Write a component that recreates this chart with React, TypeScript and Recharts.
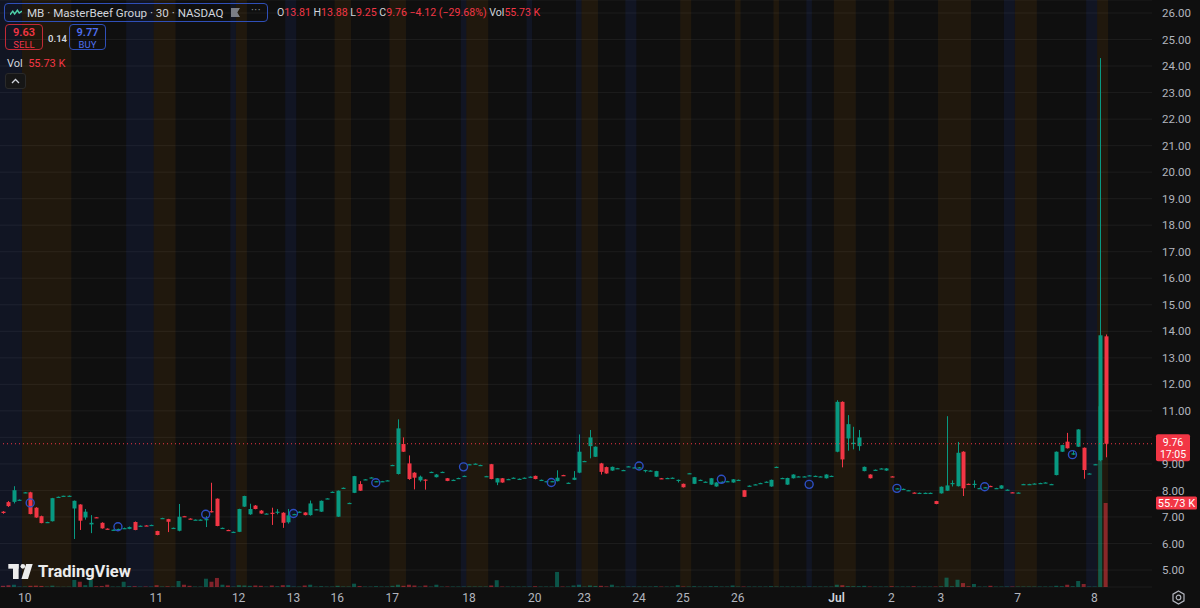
import React from 'react';
import {
  ComposedChart,
  Bar,
  XAxis,
  YAxis,
  CartesianGrid,
  ReferenceArea,
  ReferenceLine,
  Scatter,
  Cell,
} from 'recharts';

const UP = '#089981';
const DOWN = '#f23645';
const VOL_UP = 'rgba(8,153,129,0.5)';
const VOL_DOWN = 'rgba(242,54,69,0.5)';
const TOTAL_SLOTS = 210;

// 30-minute candles: [open, high, low, close]
const candles: number[][] = [
  [7.2, 7.22, 7.12, 7.15], [7.56, 7.6, 7.38, 7.41], [7.57, 8.16, 7.51, 8.01], [7.63, 7.66, 7.62, 7.65],
  [7.91, 7.94, 7.9, 7.93], [7.93, 7.95, 7.1, 7.11], [7.35, 7.37, 6.97, 6.98], [7.03, 7.05, 6.76, 6.77],
  [6.8, 6.82, 6.79, 6.81], [6.84, 7.72, 6.83, 7.71], [7.75, 7.77, 7.74, 7.76], [7.79, 7.8, 7.78, 7.8],
  [7.8, 7.81, 7.79, 7.8], [7.32, 7.62, 6.17, 7.61], [7.47, 7.48, 6.51, 6.86], [6.98, 7.3, 6.9, 7.2],
  [6.72, 7.07, 6.39, 6.78], [6.99, 7.0, 6.96, 6.97], [6.78, 6.8, 6.56, 6.57], [6.56, 6.57, 6.53, 6.54],
  [6.51, 6.53, 6.5, 6.52], [6.54, 6.56, 6.53, 6.55], [6.57, 6.6, 6.55, 6.58], [6.55, 6.64, 6.54, 6.62],
  [6.81, 6.83, 6.5, 6.51], [6.66, 6.68, 6.65, 6.67], [6.68, 6.69, 6.66, 6.67], [6.69, 6.71, 6.68, 6.7],
  [6.47, 6.48, 6.31, 6.32], [6.95, 6.97, 6.94, 6.96], [6.92, 6.93, 6.43, 6.82], [6.58, 6.6, 6.57, 6.59],
  [6.48, 7.49, 6.46, 7.01], [7.03, 7.04, 7.01, 7.02], [6.94, 6.95, 6.92, 6.93], [6.9, 6.91, 6.89, 6.9],
  [6.89, 6.91, 6.88, 6.9], [6.88, 7.03, 6.62, 6.92], [7.22, 8.29, 7.17, 7.18], [7.69, 7.7, 6.65, 6.66],
  [6.58, 6.6, 6.57, 6.59], [6.51, 6.52, 6.49, 6.5], [6.43, 6.45, 6.42, 6.44], [6.44, 7.31, 6.43, 7.3],
  [7.39, 7.8, 7.38, 7.79], [7.1, 7.5, 7.08, 7.3], [7.43, 7.45, 7.29, 7.3], [7.24, 7.26, 7.12, 7.13],
  [7.12, 7.14, 7.11, 7.13], [7.16, 7.35, 6.7, 7.15], [7.19, 7.3, 7.1, 7.2], [7.16, 7.18, 6.59, 6.78],
  [6.8, 7.3, 6.75, 7.06], [7.1, 7.12, 7.09, 7.11], [7.19, 7.21, 7.18, 7.2], [7.17, 7.18, 7.06, 7.07],
  [7.07, 7.62, 7.05, 7.51], [7.28, 7.3, 7.27, 7.29], [7.2, 7.62, 7.19, 7.61], [7.69, 7.71, 7.68, 7.7],
  [7.94, 7.96, 7.93, 7.95], [7.01, 8.0, 7.0, 7.99], [8.09, 8.11, 8.08, 8.1], [7.52, 7.54, 7.51, 7.53],
  [7.91, 8.55, 7.9, 8.54], [8.24, 8.35, 7.98, 7.99], [8.41, 8.43, 8.4, 8.42], [8.48, 8.5, 8.47, 8.49],
  [8.34, 8.36, 8.33, 8.35], [8.35, 8.36, 8.33, 8.35], [8.37, 8.39, 8.36, 8.38], [8.95, 8.97, 8.94, 8.96],
  [8.62, 10.68, 8.6, 10.34], [9.75, 10.0, 9.45, 9.46], [9.02, 9.32, 8.4, 8.43], [8.67, 8.69, 8.04, 8.48],
  [8.38, 8.56, 8.33, 8.52], [8.41, 8.42, 8.03, 8.4], [8.69, 8.71, 8.68, 8.7], [8.5, 8.62, 8.49, 8.6],
  [8.69, 8.71, 8.68, 8.7], [8.46, 8.47, 8.35, 8.36], [8.39, 8.41, 8.38, 8.4], [8.46, 8.48, 8.45, 8.47],
  [8.54, 8.56, 8.53, 8.55], [8.98, 9.0, 8.97, 8.99], [9.0, 9.02, 8.99, 9.01], [8.95, 8.97, 8.94, 8.96],
  [8.53, 8.55, 8.52, 8.54], [8.99, 9.0, 8.42, 8.43], [8.3, 8.47, 8.2, 8.46], [8.46, 8.47, 8.29, 8.3],
  [8.42, 8.44, 8.41, 8.43], [8.47, 8.49, 8.46, 8.48], [8.43, 8.45, 8.42, 8.44], [8.47, 8.49, 8.46, 8.48],
  [8.51, 8.53, 8.5, 8.52], [8.55, 8.56, 8.42, 8.43], [8.39, 8.41, 8.38, 8.4], [8.34, 8.36, 8.33, 8.35],
  [8.34, 8.36, 8.33, 8.35], [8.35, 8.76, 8.34, 8.48], [8.58, 8.59, 8.55, 8.57], [8.28, 8.3, 8.27, 8.29],
  [8.4, 8.73, 8.39, 8.48], [8.67, 10.11, 8.65, 9.46], [9.1, 9.12, 9.09, 9.11], [9.67, 10.28, 9.21, 10.0],
  [9.27, 9.66, 9.26, 9.65], [9.02, 9.04, 8.6, 8.7], [8.88, 8.9, 8.63, 8.64], [8.75, 8.9, 8.74, 8.89],
  [8.83, 8.85, 8.82, 8.84], [8.76, 8.78, 8.75, 8.77], [8.9, 8.92, 8.89, 8.91], [8.86, 8.88, 8.85, 8.87],
  [8.86, 8.88, 8.85, 8.87], [8.76, 8.78, 8.68, 8.77], [8.74, 8.76, 8.73, 8.75], [8.52, 8.74, 8.51, 8.73],
  [8.46, 8.47, 8.43, 8.45], [8.46, 8.48, 8.45, 8.47], [8.47, 8.49, 8.46, 8.48], [8.39, 8.41, 8.3, 8.4],
  [8.25, 8.26, 8.11, 8.12], [8.64, 8.66, 8.63, 8.65], [8.25, 8.51, 8.24, 8.5], [8.39, 8.41, 8.38, 8.4],
  [8.32, 8.34, 8.31, 8.33], [8.22, 8.47, 8.21, 8.46], [8.15, 8.31, 8.14, 8.3], [8.32, 8.34, 8.31, 8.33],
  [8.34, 8.36, 8.33, 8.35], [8.3, 8.43, 8.29, 8.42], [8.39, 8.41, 8.38, 8.4], [8.01, 8.02, 7.75, 7.76],
  [8.17, 8.19, 8.16, 8.18], [8.22, 8.24, 8.21, 8.23], [8.27, 8.29, 8.26, 8.28], [8.32, 8.34, 8.31, 8.33],
  [8.15, 8.41, 8.14, 8.4], [8.88, 8.9, 8.87, 8.89], [8.46, 8.48, 8.45, 8.47], [8.22, 8.48, 8.21, 8.47],
  [8.46, 8.61, 8.45, 8.6], [8.52, 8.54, 8.51, 8.53], [8.52, 8.54, 8.51, 8.53], [8.56, 8.58, 8.55, 8.57],
  [8.54, 8.56, 8.53, 8.55], [8.52, 8.54, 8.51, 8.53], [8.46, 8.61, 8.45, 8.6], [8.54, 8.56, 8.53, 8.55],
  [9.46, 11.4, 9.44, 11.34], [11.34, 11.36, 8.87, 9.17], [9.96, 10.84, 9.5, 10.5], [9.75, 10.4, 9.55, 9.8],
  [9.67, 10.28, 9.5, 10.0], [8.73, 8.9, 8.72, 8.89], [8.6, 8.61, 8.45, 8.46], [8.77, 8.79, 8.76, 8.78],
  [8.82, 8.84, 8.81, 8.83], [8.75, 8.84, 8.74, 8.83], [8.53, 8.54, 8.51, 8.52], [8.07, 8.09, 8.06, 8.08],
  [8.05, 8.07, 8.04, 8.06], [8.0, 8.02, 7.99, 8.01], [7.92, 7.93, 7.9, 7.91], [7.9, 7.92, 7.89, 7.91],
  [7.9, 7.92, 7.89, 7.91], [7.9, 7.92, 7.89, 7.91], [7.6, 7.61, 7.48, 7.49], [7.89, 8.15, 7.88, 8.14],
  [7.99, 10.8, 7.98, 8.19], [8.26, 8.38, 8.15, 8.28], [8.16, 9.83, 8.15, 9.42], [9.46, 9.48, 7.79, 8.08],
  [8.25, 8.26, 8.22, 8.24], [8.23, 8.38, 8.1, 8.25], [8.08, 8.1, 8.07, 8.09], [8.11, 8.13, 8.1, 8.12],
  [8.17, 8.18, 8.15, 8.16], [8.08, 8.1, 8.07, 8.09], [8.07, 8.2, 8.06, 8.19], [8.02, 8.04, 8.01, 8.03],
  [7.93, 7.94, 7.91, 7.92], [7.91, 7.93, 7.9, 7.92], [8.23, 8.25, 8.22, 8.24], [8.23, 8.25, 8.22, 8.24],
  [8.25, 8.27, 8.24, 8.26], [8.27, 8.29, 8.26, 8.28], [8.29, 8.31, 8.28, 8.3], [8.23, 8.25, 8.22, 8.24],
  [8.58, 9.47, 8.57, 9.46], [9.46, 9.72, 9.45, 9.71], [9.84, 10.17, 9.58, 9.59], [9.35, 9.5, 9.34, 9.4],
  [9.65, 10.31, 9.64, 10.3], [9.61, 9.62, 8.44, 8.77], [8.63, 8.65, 8.62, 8.64], [8.98, 9.0, 8.97, 8.99],
  [9.14, 24.3, 9.1, 13.85], [13.81, 13.88, 9.25, 9.76],
];

const volumes: number[] = [
  800, 1200, 1500, 300, 300, 800, 900, 700, 300, 900, 200, 200,
  200, 4700, 3500, 1200, 4700, 500, 700, 1500, 300, 300, 3500, 600,
  500, 300, 300, 300, 1200, 300, 400, 300, 4000, 1500, 800, 300,
  300, 5500, 3500, 6000, 1500, 1000, 300, 1200, 1000, 800, 1000, 800,
  300, 1000, 500, 1200, 1200, 300, 300, 1000, 1500, 300, 500, 300,
  300, 800, 300, 300, 2200, 600, 300, 300, 500, 300, 300, 800,
  1500, 800, 1500, 1000, 300, 1000, 300, 1500, 300, 300, 300, 300,
  300, 300, 300, 300, 300, 1000, 4500, 300, 300, 300, 300, 300,
  300, 500, 300, 300, 300, 10000, 300, 300, 1000, 1500, 300, 1000,
  700, 800, 400, 1500, 300, 300, 300, 300, 300, 300, 300, 500,
  300, 300, 300, 1200, 300, 300, 500, 300, 300, 500, 500, 300,
  300, 1000, 300, 300, 300, 300, 300, 300, 500, 300, 300, 300,
  300, 300, 300, 300, 300, 300, 300, 300, 1500, 1200, 600, 500,
  500, 800, 300, 300, 300, 300, 500, 300, 300, 300, 500, 300,
  300, 300, 300, 500, 6200, 500, 4800, 2600, 500, 2000, 300, 300,
  800, 300, 300, 300, 300, 300, 300, 300, 300, 300, 300, 300,
  800, 500, 1500, 500, 4000, 2000, 300, 300, 120000, 55730,
];

// day labels on the time axis (bar index where each day starts)
const dayTicks: number[] = [4, 28, 43, 53, 61, 71, 85, 97, 106, 116, 124, 134, 152, 162, 171, 185, 199];
const dayLabels: string[] = ['10', '11', '12', '13', '16', '17', '18', '20', '23', '24', '25', '26', 'Jul', '2', '3', '7', '8'];

// extended-hours session backgrounds: [firstBar, lastBar]
const preMarket: number[][] = [
  [4, 12], [28, 31], [43, 44], [61, 63], [71, 73], [85, 88], [106, 108], [124, 125], [134, 134],
  [141, 141], [152, 155], [162, 162], [171, 176], [185, 188], [200, 201],
];
const postMarket: number[][] = [
  [0, 3], [23, 27], [42, 42], [52, 53], [84, 84], [96, 96], [105, 105], [114, 115], [147, 147],
  [183, 184], [198, 199],
];

// event markers (blue circles)
const markerIdx: number[] = [5, 21, 37, 53, 68, 84, 100, 116, 131, 147, 163, 179, 195];
const markerPrice: number[] = [7.53, 6.63, 7.1, 7.13, 8.29, 8.89, 8.3, 8.92, 8.42, 8.23, 8.08, 8.14, 9.35];

const priceTicks: number[] = [5, 6, 7, 8, 9, 10, 11, 12, 13, 14, 15, 16, 17, 18, 19, 20, 21, 22, 23, 24, 25, 26];
const hiddenPriceTicks: number[] = [10];
const LAST_PRICE = 9.76;
const LAST_VOLUME = 55730;

type Row = { i: number; o?: number; h?: number; l?: number; c?: number; v?: number; mark?: number | null };

const rows: Row[] = Array.from({ length: TOTAL_SLOTS }, (_, i) => {
  const k = candles[i];
  const m = markerIdx.indexOf(i);
  const mark = m >= 0 ? markerPrice[m] : null;
  if (!k) return { i, mark };
  return { i, o: k[0], h: k[1], l: k[2], c: k[3], v: volumes[i], mark };
});

const Candle = (props: any) => {
  const { x, y, width, height, payload } = props;
  if (!payload || payload.o == null || x == null || y == null) return null;
  const { o, h, l, c } = payload;
  const color = c >= o ? UP : DOWN;
  const top = Math.min(y, y + height);
  const hgt = Math.abs(height);
  const span = h - l || 1;
  const py = (p: number) => top + ((h - p) / span) * hgt;
  const bTop = py(Math.max(o, c));
  const bBot = py(Math.min(o, c));
  const cx = Math.round(x + width / 2) + 0.5;
  return (
    <g>
      <line x1={cx} x2={cx} y1={top} y2={top + hgt} stroke={color} strokeWidth={1} />
      <rect x={cx - 2} y={bTop} width={4} height={Math.max(1.2, bBot - bTop)} fill={color} />
    </g>
  );
};

const Marker = (props: any) => {
  const { cx, cy, payload } = props;
  if (!payload || payload.mark == null || cx == null || cy == null || isNaN(cy)) return null;
  return <circle cx={cx} cy={cy} r={4} fill="none" stroke="#2d4fc4" strokeWidth={1.4} />;
};

const PriceTag = (props: any) => {
  const vb = props.viewBox || {};
  const x = (vb.x || 0) + (vb.width || 0) + 4;
  const y = vb.y || 0;
  return (
    <g>
      <rect x={x} y={y - 9.5} width={34} height={27} rx={2} fill={DOWN} />
      <text x={x + 17} y={y + 2.5} textAnchor="middle" fill="#ffffff" fontSize={10.5}>
        {LAST_PRICE.toFixed(2)}
      </text>
      <text x={x + 17} y={y + 14.5} textAnchor="middle" fill="#ffffff" fontSize={10.5}>
        17:05
      </text>
    </g>
  );
};

const VolTag = (props: any) => {
  const vb = props.viewBox || {};
  const x = (vb.x || 0) + (vb.width || 0) + 4;
  const y = vb.y || 0;
  return (
    <g>
      <rect x={x} y={y - 6.5} width={41} height={13} rx={1.5} fill={DOWN} />
      <text x={x + 20.5} y={y + 4} textAnchor="middle" fill="#ffffff" fontSize={11}>
        {(LAST_VOLUME / 1000).toFixed(2)} K
      </text>
    </g>
  );
};

const PriceTick = (props: any) => {
  const { x, y, payload } = props;
  if (hiddenPriceTicks.includes(payload.value)) return null;
  return (
    <text x={x} y={y} dy="0.355em" textAnchor="start" fill="#b2b5be" fontSize={11.5}>
      {Number(payload.value).toFixed(2)}
    </text>
  );
};

const TimeTick = (props: any) => {
  const { x, y, payload } = props;
  const k = dayTicks.indexOf(payload.value);
  const label = k >= 0 ? dayLabels[k] : '';
  const strong = label === 'Jul';
  return (
    <text x={x} y={y} dy="0.71em" textAnchor="middle" fill={strong ? '#d1d4dc' : '#b2b5be'} fontSize={12} fontWeight={strong ? 600 : 400}>
      {label}
    </text>
  );
};

const Logo = () => (
  <div style={{ position: 'absolute', left: 8, top: 562, display: 'flex', alignItems: 'center', pointerEvents: 'none' }}>
    <svg width={25} height={15} viewBox="0 0 26 16">
      <rect x={0} y={0} width={11} height={5} fill="#ececec" />
      <rect x={5} y={0} width={6} height={16} fill="#ececec" />
      <circle cx={15.5} cy={2.5} r={2.5} fill="#ececec" />
      <polygon points="19,0 26,0 21,16 14,16" fill="#ececec" />
    </svg>
    <span style={{ marginLeft: 5, color: '#ececec', fontSize: 16.5, fontWeight: 700 }}>TradingView</span>
  </div>
);

const Header = () => (
  <>
    <div
      style={{
        position: 'absolute', left: 4, top: 3, width: 264, height: 19, border: '1px solid #2f4fb8',
        borderRadius: 4, display: 'flex', alignItems: 'center', boxSizing: 'border-box', paddingLeft: 5,
      }}
    >
      <svg width={12} height={8} viewBox="0 0 13 8">
        <polyline points="0,6 3,2 5,5 8,1 10,4 13,2" fill="none" stroke="#4dd0a8" strokeWidth={1.6} />
      </svg>
      <span style={{ marginLeft: 5, color: '#d1d4dc', fontSize: 11.6, whiteSpace: 'nowrap' }}>
        MB · MasterBeef Group · 30 · NASDAQ
      </span>
      <span style={{ position: 'absolute', left: 226, top: 4, width: 9, height: 9, background: '#7a7d86', clipPath: 'polygon(0 0,100% 0,70% 50%,100% 100%,0 100%)' }} />
      <span style={{ position: 'absolute', left: 246, top: 0, color: '#9598a1', fontSize: 11, letterSpacing: 0.5 }}>···</span>
    </div>
    <div style={{ position: 'absolute', left: 277, top: 6, fontSize: 10.6, whiteSpace: 'nowrap', color: '#d1d4dc' }}>
      O<span style={{ color: DOWN }}>13.81</span> H<span style={{ color: DOWN }}>13.88</span> L
      <span style={{ color: DOWN }}>9.25</span> C<span style={{ color: DOWN }}>9.76 −4.12 (−29.68%)</span> Vol
      <span style={{ color: DOWN }}>55.73 K</span>
    </div>
    <div
      style={{
        position: 'absolute', left: 5, top: 24, width: 38, height: 26, border: '1px solid #c22a36', borderRadius: 4,
        boxSizing: 'border-box', textAlign: 'center', color: DOWN, lineHeight: '11px',
      }}
    >
      <div style={{ fontSize: 11, fontWeight: 600, marginTop: 2 }}>9.63</div>
      <div style={{ fontSize: 9.5, marginTop: 1 }}>SELL</div>
    </div>
    <div style={{ position: 'absolute', left: 48, top: 33, fontSize: 9.5, color: '#d1d4dc', fontWeight: 600 }}>0.14</div>
    <div
      style={{
        position: 'absolute', left: 69, top: 24, width: 37, height: 26, border: '1px solid #2f4fb8', borderRadius: 4,
        boxSizing: 'border-box', textAlign: 'center', color: '#4f6ff0', lineHeight: '11px',
      }}
    >
      <div style={{ fontSize: 11, fontWeight: 600, marginTop: 2 }}>9.77</div>
      <div style={{ fontSize: 9.5, marginTop: 1 }}>BUY</div>
    </div>
    <div style={{ position: 'absolute', left: 7, top: 57, fontSize: 11, color: '#d1d4dc', whiteSpace: 'nowrap' }}>
      Vol&nbsp;&nbsp;<span style={{ color: DOWN }}>55.73 K</span>
    </div>
    <div
      style={{
        position: 'absolute', left: 5, top: 73, width: 21, height: 16, border: '1px solid #2a2a2a', borderRadius: 3,
        boxSizing: 'border-box', background: '#161616', display: 'flex', alignItems: 'center', justifyContent: 'center',
      }}
    >
      <svg width={9} height={6} viewBox="0 0 9 6">
        <polyline points="1,5 4.5,1.5 8,5" fill="none" stroke="#d1d4dc" strokeWidth={1.3} />
      </svg>
    </div>
    <svg style={{ position: 'absolute', left: 1171, top: 590 }} width={15} height={15} viewBox="0 0 15 15">
      <polygon points="7.5,1 13,4.2 13,10.8 7.5,14 2,10.8 2,4.2" fill="none" stroke="#b2b5be" strokeWidth={1.2} />
      <circle cx={7.5} cy={7.5} r={2.3} fill="none" stroke="#b2b5be" strokeWidth={1.2} />
    </svg>
  </>
);

export default function App() {
  return (
    <div
      style={{
        position: 'absolute', left: 0, top: 0, width: 1200, height: 608, background: '#0f0f0f', overflow: 'hidden',
        fontFamily: 'Roboto, "Noto Sans", sans-serif',
      }}
    >
      <ComposedChart width={1200} height={608} data={rows} margin={{ top: 0, right: 0, bottom: 0, left: 0 }}>
        <CartesianGrid xAxisId="p" yAxisId="price" stroke="#1d1d1d" vertical={false} />
        <XAxis
          xAxisId="p"
          dataKey="i"
          type="category"
          allowDuplicatedCategory={false}
          ticks={dayTicks}
          interval={0}
          height={21}
          axisLine={false}
          tickLine={false}
          tickSize={0}
          tickMargin={6}
          tick={<TimeTick />}
        />
        <XAxis xAxisId="v" dataKey="i" type="category" allowDuplicatedCategory={false} hide />
        <YAxis
          yAxisId="price"
          orientation="right"
          width={48}
          domain={[4.36, 26.49]}
          ticks={priceTicks}
          allowDataOverflow
          axisLine={false}
          tickLine={false}
          tickMargin={4}
          tick={<PriceTick />}
        />
        <YAxis yAxisId="vol" hide domain={[0, 389450]} allowDataOverflow />
        {preMarket.map(([a, b], k) => (
          <ReferenceArea key={'pre' + k} xAxisId="p" yAxisId="price" x1={a} x2={b} fill="rgba(255,152,0,0.075)" fillOpacity={1} stroke="none" ifOverflow="visible" />
        ))}
        {postMarket.map(([a, b], k) => (
          <ReferenceArea key={'post' + k} xAxisId="p" yAxisId="price" x1={a} x2={b} fill="rgba(41,98,255,0.085)" fillOpacity={1} stroke="none" ifOverflow="visible" />
        ))}
        <Bar xAxisId="v" yAxisId="vol" dataKey="v" barSize={4} isAnimationActive={false}>
          {rows.map((r, k) => (
            <Cell key={k} fill={r.c != null && r.o != null && r.c >= r.o ? VOL_UP : VOL_DOWN} />
          ))}
        </Bar>
        <Bar
          xAxisId="p"
          yAxisId="price"
          dataKey={(d: Row) => (d.o == null ? null : [d.l, d.h])}
          barSize={4}
          shape={(p: any) => <Candle {...p} />}
          isAnimationActive={false}
        />
        <Scatter xAxisId="p" yAxisId="price" dataKey="mark" shape={(p: any) => <Marker {...p} />} isAnimationActive={false} />
        <ReferenceLine xAxisId="p" yAxisId="price" y={LAST_PRICE} stroke={DOWN} strokeDasharray="1 3" strokeWidth={1} label={<PriceTag />} />
        <ReferenceLine xAxisId="p" yAxisId="vol" y={LAST_VOLUME} stroke="none" label={<VolTag />} />
      </ComposedChart>
      <Header />
      <Logo />
    </div>
  );
}
